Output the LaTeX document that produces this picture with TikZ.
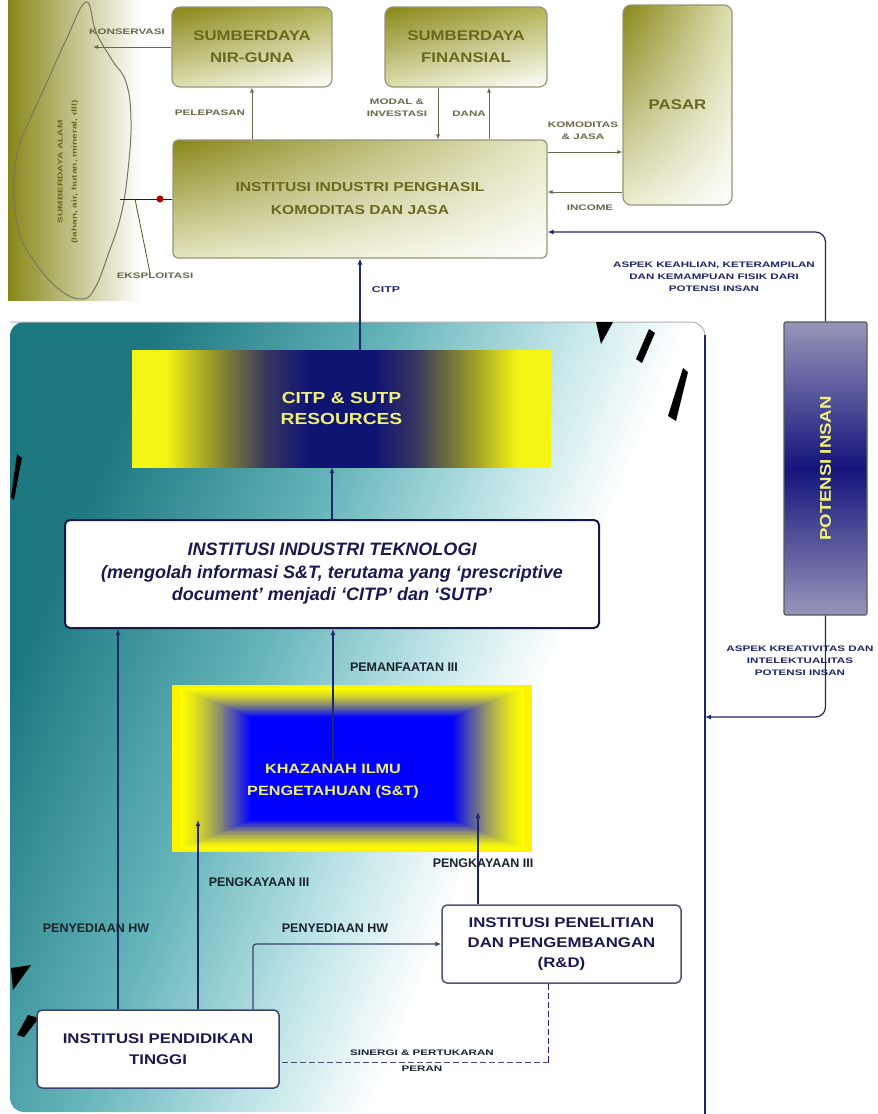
\documentclass[tikz,border=0pt]{standalone}
\usepackage{fontspec}
\setmainfont{Liberation Sans}
\newfontfamily\lab[FakeStretch=1.45]{Liberation Sans}
\newfontfamily\olf[FakeStretch=1.2]{Liberation Sans}
\usetikzlibrary{arrows.meta,calc,shadings}
\definecolor{oliveD}{RGB}{135,135,25}
\definecolor{oliveM}{RGB}{180,180,90}
\definecolor{oliveL}{RGB}{222,222,175}
\definecolor{oliveB}{RGB}{150,150,120}
\definecolor{oliveT}{RGB}{105,105,30}
\definecolor{labG}{RGB}{105,105,75}
\definecolor{navyL}{RGB}{30,40,105}
\definecolor{navyT}{RGB}{25,25,80}
\definecolor{navyB}{RGB}{20,25,70}
\definecolor{tealD}{RGB}{30,120,130}
\definecolor{tealM}{RGB}{100,180,185}
\definecolor{tealL}{RGB}{190,228,230}
\definecolor{tealT}{RGB}{25,35,45}
\definecolor{cnavy}{RGB}{15,20,115}
\definecolor{cdark}{RGB}{55,55,95}
\definecolor{colive}{RGB}{145,145,45}
\definecolor{yel}{RGB}{245,245,20}
\definecolor{potG}{RGB}{150,150,185}
\definecolor{potN}{RGB}{20,20,125}
\definecolor{txtY}{RGB}{240,240,120}
\pgfdeclarehorizontalshading{tealsh}{100bp}{color(0bp)=(tealD); color(27bp)=(tealD); color(42bp)=(tealM); color(53bp)=(tealL); color(61bp)=(white); color(100bp)=(white)}
\pgfdeclarehorizontalshading{citpsh}{100bp}{color(0bp)=(yel); color(25bp)=(yel); color(29bp)=(yel); color(35bp)=(colive); color(41bp)=(cdark); color(46bp)=(cnavy); color(54bp)=(cnavy); color(59bp)=(cdark); color(65bp)=(colive); color(71bp)=(yel); color(75bp)=(yel); color(100bp)=(yel)}
\begin{document}
\begin{tikzpicture}[x=1pt,y=-1pt,
  olivebox/.style={draw=oliveB, line width=1.2pt, rounded corners=8pt, inner sep=0pt, align=center, text=oliveT, font=\olf\bfseries\fontsize{14}{22}\selectfont},
  conn/.style={draw=labG, line width=0.8pt, -{Latex[length=5pt,width=4pt]}},
  bconn/.style={draw=navyL, line width=1.6pt, -{Latex[length=6pt,width=5pt]}},
  pconn/.style={draw=navyL, line width=1.2pt, rounded corners=10pt, -{Latex[length=6pt,width=5pt]}},
  lbl/.style={font=\lab\bfseries\fontsize{8}{12}\selectfont, text=labG, align=center, inner sep=0pt},
  blbl/.style={lbl, text=navyL},
  tlbl/.style={font=\bfseries\fontsize{12.5}{15}\selectfont, text=tealT, inner sep=0pt},
  whitebox/.style={draw=navyB, fill=white, line width=1.5pt, rounded corners=5pt, align=center, inner sep=0pt, text=navyT, font=\olf\bfseries\fontsize{14}{21}\selectfont},
  deco/.style={fill=black}
]
\useasboundingbox (0,0) rectangle (878,1114);
\fill[white] (0,0) rectangle (878,1114);

% ---------- teal region ----------
\shade[shading=tealsh, shading angle=-22, rounded corners=14pt] (10,322) rectangle (705,1112);
\draw[gray!60, line width=1pt, rounded corners=14pt] (10,322) -- (705,322) -- (705,345);
\draw[navyL, line width=1.5pt, rounded corners=14pt] (705,335) -- (705,1114);
% decorations
\fill[deco] (596,322) -- (613,322) -- (601,344) -- cycle;
\fill[deco] (649,329) -- (655,333) -- (642,363) -- (636,359) -- cycle;
\fill[deco] (683,368) -- (688,372) -- (676,421) -- (668,416) -- cycle;
\fill[deco] (17,454) -- (22,458) -- (14,500) -- (11,497) -- cycle;
\fill[deco] (11,968) -- (31,965) -- (13,990) -- cycle;
\fill[deco] (28,1015) -- (39,1018) -- (24,1037) -- (17,1035) -- cycle;

% ---------- left blob ----------
\shade[left color=oliveD, right color=white] (8,0) rectangle (140,300);
\draw[oliveB!80!black, line width=1pt] plot[smooth cycle, tension=0.7] coordinates {(86,2) (96,32) (112,60) (126,82) (131,120) (128,170) (121,215) (108,255) (95,288) (82,299) (60,290) (36,264) (19,232) (14,190) (18,150) (32,115) (48,80) (66,40)};
\node[rotate=90, align=center, inner sep=0pt, text=oliveT, font=\lab\bfseries\fontsize{7}{14}\selectfont] (sda) at (68,172) {SUMBERDAYA ALAM\\(lahan, air, hutan, mineral, dll)};

% ---------- top boxes ----------
\node[olivebox, minimum width=160pt, minimum height=80pt, upper left=oliveD, upper right=oliveM, lower left=oliveL, lower right=white] (nir) at (252,47) {SUMBERDAYA\\NIR-GUNA};
\node[olivebox, minimum width=162pt, minimum height=80pt, upper left=oliveD, upper right=oliveM, lower left=oliveL, lower right=white] (fin) at (466,47) {SUMBERDAYA\\FINANSIAL};
\node[olivebox, minimum width=109pt, minimum height=200pt, upper left=oliveD, upper right=oliveL, lower left=oliveL!60!white, lower right=white] (pasar) at (677.5,105) {PASAR};
\node[olivebox, rounded corners=5pt, minimum width=374pt, minimum height=118pt, font=\olf\bfseries\fontsize{13}{23}\selectfont, upper left=oliveD, upper right=oliveL!70!white, lower left=oliveL!80!white, lower right=white] (inst) at (360,199) {INSTITUSI INDUSTRI PENGHASIL\\KOMODITAS DAN JASA};

% ---------- top connectors ----------
\draw[conn] (nir.south |- inst.north) -- (nir.south);
\draw[conn] ([xshift=-28pt]fin.south) -- ([xshift=-28pt]fin.south |- inst.north);
\draw[conn] ([xshift=23pt]fin.south |- inst.north) -- ([xshift=23pt]fin.south);
\draw[conn] ([yshift=47pt]inst.east) -- ([yshift=47pt]inst.east -| pasar.west);
\draw[conn] ([yshift=7pt]inst.east -| pasar.west) -- ([yshift=7pt]inst.east);
\coordinate (kons) at (93,47);
\draw[conn] (nir.west |- kons) -- (kons);
\coordinate (bl) at (120,199);
\coordinate (ek) at (135,199);
\draw[red!40!black, line width=1pt] (bl) -- (inst.west);
\node[circle, fill=red!70!black, inner sep=0pt, minimum size=7pt] (dot) at (160,199) {};

% labels top
\node[lbl] (lkons) at (127,32) {KONSERVASI};
\node[lbl] (lpel) at (210,113) {PELEPASAN};
\node[lbl] (lmod) at (397,108) {MODAL \&\\INVESTASI};
\node[lbl] (ldana) at (469,114) {DANA};
\node[lbl] (lkom) at (583,131) {KOMODITAS\\\& JASA};
\node[lbl] (linc) at (590,208) {INCOME};
\node[lbl] (leks) at (155,276) {EKSPLOITASI};
\draw[oliveT!80!black, line width=0.8pt] ([xshift=-5pt]leks.north) -- (ek);

% ---------- POTENSI INSAN ----------
\node[draw=gray!70!black, line width=1.2pt, rounded corners=2pt, top color=potG, bottom color=potG, middle color=potN, minimum width=83pt, minimum height=293pt] (pot) at (825.5,468.5) {};
\node[rotate=90, text=txtY, inner sep=0pt, font=\olf\bfseries\fontsize{15.5}{18}\selectfont] (pott) at (pot.center) {POTENSI INSAN};
\draw[pconn] (pot.north) |- ([yshift=-33pt]inst.east);
\node[blbl] (lasp1) at (714,277) {ASPEK KEAHLIAN, KETERAMPILAN\\DAN KEMAMPUAN FISIK DARI\\POTENSI INSAN};
\coordinate (reg) at (705,717);
\draw[pconn] (pot.south) |- (reg);
\node[blbl] (lasp2) at (800,661) {ASPEK KREATIVITAS DAN\\INTELEKTUALITAS\\POTENSI INSAN};

% ---------- CITP box ----------
\node[shade, shading=citpsh, minimum width=419pt, minimum height=117pt, inner sep=0pt, align=center, text=txtY, font=\olf\bfseries\fontsize{16}{21}\selectfont] (citp) at (341.5,408.5) {CITP \& SUTP\\RESOURCES};
\draw[bconn] ([xshift=18.5pt]citp.north) -- ([xshift=18.5pt]citp.north |- inst.south);
\node[blbl, font=\lab\bfseries\fontsize{8.5}{12}\selectfont] (lcitp) at (386,290) {CITP};

% ---------- tech box ----------
\node[whitebox, line width=2pt, minimum width=534pt, minimum height=108pt, font=\bfseries\itshape\fontsize{18}{22.5}\selectfont] (tech) at (332,574) {INSTITUSI INDUSTRI TEKNOLOGI\\(mengolah informasi S\&T, terutama yang `prescriptive\\document' menjadi `CITP' dan `SUTP'};
\draw[bconn] (tech.north) -- (tech.north |- citp.south);

% ---------- KHAZANAH ----------
\node[minimum width=360pt, minimum height=167pt, inner sep=0pt] (kz) at (352,768.5) {};
\foreach \i in {0,...,40}{
  \pgfmathsetmacro\p{100*(max(0,(\i/40-0.08)/0.92))^1.4}
  \fill[blue!\p!yellow] ($(kz.north west)+(\i*1.95,\i*0.8)$) rectangle ($(kz.south east)-(\i*1.95,\i*0.8)$);
}
\coordinate (kzin) at (333,762);
\draw[bconn] (kzin) -- (kzin |- tech.south);
\node[align=center, inner sep=0pt, text=txtY, font=\olf\bfseries\fontsize{13.5}{22}\selectfont] (kzt) at (333,781) {KHAZANAH ILMU\\PENGETAHUAN (S\&T)};
\node[tlbl] (lpem) at (404,667) {PEMANFAATAN III};

% ---------- bottom boxes ----------
\node[whitebox, minimum width=242pt, minimum height=78pt, draw=navyL!70!gray] (pend) at (158,1049) {INSTITUSI PENDIDIKAN\\TINGGI};
\node[whitebox, minimum width=239pt, minimum height=78pt, draw=navyL!50!gray, font=\olf\bfseries\fontsize{14}{20}\selectfont] (rd) at (561.5,944) {INSTITUSI PENELITIAN\\DAN PENGEMBANGAN\\(R\&D)};

\coordinate (kzl) at (198,820);
\coordinate (kzr) at (478,812);
\draw[bconn] ([xshift=-40pt]pend.north) -- ([xshift=-40pt]pend.north |- tech.south);
\draw[bconn] ([xshift=40pt]pend.north) -- (kzl);
\draw[bconn, line width=1.2pt, draw=navyL!70!gray, rounded corners=3pt] ([xshift=95pt]pend.north) |- (rd.west);
\draw[bconn] (rd.north -| kzr) -- (kzr);
\draw[navyL, line width=1.8pt, dash pattern=on 6pt off 3pt] ([xshift=-13pt]rd.south) -- ([xshift=-13pt]rd.south |- 0,1062);
\draw[navyL!60!gray, line width=1pt, dash pattern=on 6pt off 3pt] ([xshift=-13pt]rd.south |- 0,1062) -- ([yshift=-13pt]pend.east);

\node[tlbl] (lpk1) at (259,882) {PENGKAYAAN III};
\node[tlbl] (lpk2) at (483,863) {PENGKAYAAN III};
\node[tlbl] (lpy1) at (96,928) {PENYEDIAAN HW};
\node[tlbl] (lpy2) at (335,928) {PENYEDIAAN HW};
\node[lbl, text=tealT, font=\lab\bfseries\fontsize{8}{16}\selectfont] (lsin) at (422,1061) {SINERGI \& PERTUKARAN\\PERAN};
\end{tikzpicture}
\end{document}
